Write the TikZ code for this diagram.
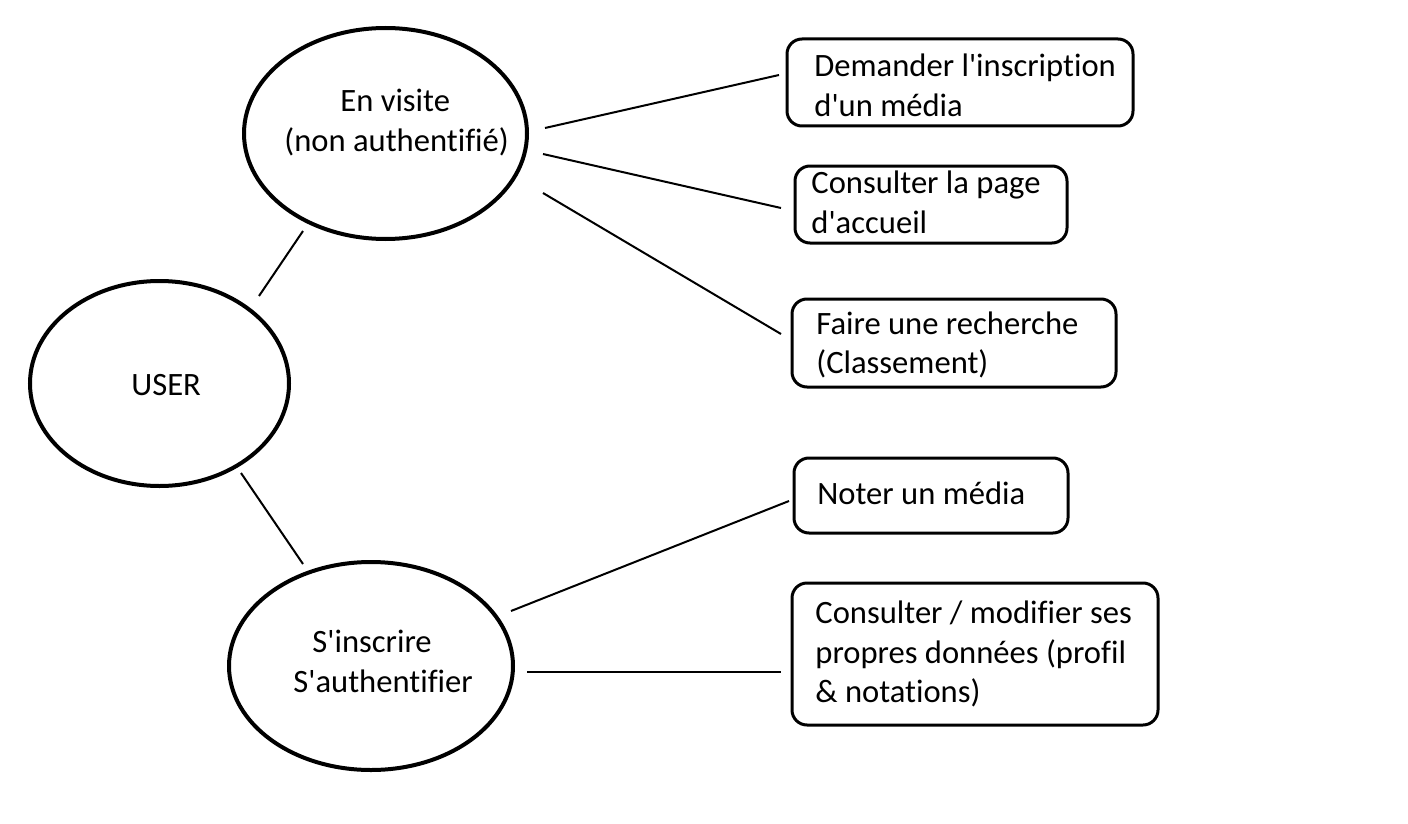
\documentclass[tikz,border=0pt]{standalone}
\usepackage{fontspec}
\setmainfont{Carlito}[Ligatures=NoCommon]
\usetikzlibrary{shapes.geometric}
\newcommand{\apos}{\textquotesingle}
\begin{document}
\begin{tikzpicture}[x=0.5pt,y=-0.5pt,
  usecase/.style={draw, ellipse, line width=2pt, inner sep=0pt},
  actionbox/.style={draw, rectangle, rounded corners=7.5pt, line width=1.5pt, inner sep=0pt},
  txt/.style={inner sep=0pt, anchor=base west, align=left, font=\fontsize{16.3}{19.75}\selectfont},
  conn/.style={line width=1pt}]
\useasboundingbox (0,0) rectangle (1408,824);

% use-case ellipses
\node[usecase, minimum width=129.5pt, minimum height=102.5pt] (user) at (159.5,383.5) {};
\node[usecase, minimum width=141.5pt, minimum height=105.5pt] (visit) at (385.5,133.5) {};
\node[usecase, minimum width=142pt, minimum height=104pt] (auth) at (371,666) {};

\node[txt] (usertxt) at (131,395) {USER};
\node[txt] (visittxt1) at (340,112) {En visite};
\node[txt] (visittxt2) at (284,151) {(non authentifié)};
\node[txt] (authtxt1) at (312,652) {S\apos inscrire};
\node[txt] (authtxt2) at (293,692) {S\apos authentifier};

% action boxes
\node[actionbox, minimum width=173pt, minimum height=43.5pt] (b1) at (960,82.5) {};
\node[actionbox, minimum width=136pt, minimum height=38.5pt] (b2) at (931,204.5) {};
\node[actionbox, minimum width=162pt, minimum height=44pt] (b3) at (954,343) {};
\node[actionbox, minimum width=137pt, minimum height=37.5pt] (b4) at (931,495.5) {};
\node[actionbox, minimum width=183pt, minimum height=71pt] (b5) at (975,654) {};

% multi-line texts: base anchor sits on the last line
\node[txt] (t1) at (814,116.5) {Demander l\apos inscription\\d\apos un média};
\node[txt] (t2) at (811,233) {Consulter la page\\d\apos accueil};
\node[txt] (t3) at (816,373.5) {Faire une recherche\\(Classement)};
\node[txt] (t4) at (817,504) {Noter un média};
\node[txt] (t5) at (815,702.5) {Consulter / modifier ses\\propres données (profil\\\& notations)};

% connector end points (the lines stop short of the shapes)
\coordinate (uv1) at (259,296);  \coordinate (uv2) at (303,231);
\coordinate (ua1) at (241,473);  \coordinate (ua2) at (303,564);
\coordinate (v1a) at (545,128);  \coordinate (v1b) at (779,75);
\coordinate (v2a) at (543,154);  \coordinate (v2b) at (781,208);
\coordinate (v3a) at (543,193);  \coordinate (v3b) at (781,334);
\coordinate (a4a) at (511,611);  \coordinate (a4b) at (789,501);
\coordinate (a5a) at (527,672);  \coordinate (a5b) at (781,672);

\draw[conn] (uv1) -- (uv2);
\draw[conn] (ua1) -- (ua2);
\draw[conn] (v1a) -- (v1b);
\draw[conn] (v2a) -- (v2b);
\draw[conn] (v3a) -- (v3b);
\draw[conn] (a4a) -- (a4b);
\draw[conn] (a5a) -- (a5b);
\end{tikzpicture}
\end{document}
